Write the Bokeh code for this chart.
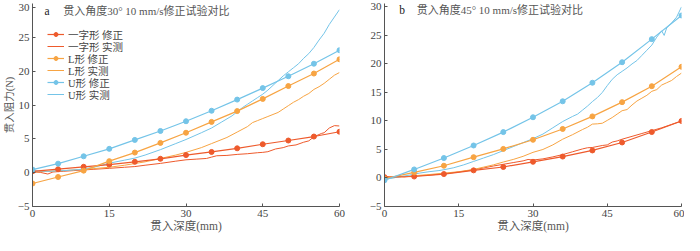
from bokeh.plotting import figure
from bokeh.layouts import row
from bokeh.models import FixedTicker, Legend, LegendItem, Label
from bokeh.embed import file_html
from bokeh.resources import INLINE

RED = "#EE5A2C"
ORANGE = "#F7A443"
BLUE = "#74C4E8"
FONT = "'Liberation Serif', 'Noto Sans CJK SC'"

# ---------------- data ----------------
x_ticks = [0, 15, 30, 45, 60]

# panel a (y in axis-position units; labels below)
a_y_ticks = [-5, 0, 5, 10, 15, 20, 24.4]
a_y_labels = ["−5", "0", "5", "10", "20", "25", "30"]

a_fit_x = [0, 5, 10, 15, 20, 25, 30, 35, 40, 45, 50, 55, 60]
a_yi_fit = [0.2, 0.51, 0.87, 1.19, 1.6, 2.05, 2.6, 3.06, 3.6, 4.2, 4.75, 5.34, 6.05]
a_L_fit = [-1.6, -0.64, 0.3, 1.7, 2.97, 4.4, 5.9, 7.5, 9.1, 10.9, 12.8, 14.65, 16.75]
a_U_fit = [0.46, 1.33, 2.42, 3.52, 4.84, 6.16, 7.6, 9.15, 10.8, 12.5, 14.25, 16.1, 18.1]

a_yi_mx = [0, 1.5, 3, 4, 6, 8, 10, 12, 15, 18, 20, 22, 25, 28, 30, 32, 34, 35, 36, 38, 40,
           42, 44, 45, 46, 47.5, 49, 50, 51.5, 53, 54, 55, 56.5, 57, 58, 59, 60]
a_yi_my = [0.1, 0.05, -0.2, 0.1, 0.2, 0.3, 0.4, 0.5, 0.64, 0.8, 0.9, 1.1, 1.37, 1.7, 1.9, 2.0,
           2.1, 2.3, 2.5, 2.55, 2.7, 2.8, 2.95, 3.0, 3.1, 3.5, 3.7, 3.95, 4.1, 4.5, 4.7, 5.3,
           5.8, 5.9, 6.6, 6.95, 6.9]

a_L_mx = [0, 3, 6, 9, 12, 15, 18, 20, 22, 25, 28, 30, 33, 35, 38, 40, 42, 43, 44, 45, 46,
          47, 48, 49, 50, 51, 52, 53, 54, 55, 56, 57, 58, 59, 60]
a_L_my = [0.1, 0.2, 0.3, 0.45, 0.6, 0.8, 1.1, 1.35, 1.6, 2.1, 2.6, 3.0, 3.7, 4.3, 5.2, 6.0,
          6.8, 7.4, 7.7, 8.0, 8.3, 8.6, 8.9, 9.4, 9.9, 10.4, 10.8, 11.3, 11.7, 12.3, 12.7,
          13.2, 13.8, 14.4, 14.8]

a_U_mx = [0, 3, 6, 9, 12, 15, 18, 20, 22, 25, 28, 30, 33, 35, 37, 39, 40, 41, 42, 43, 44,
          45, 46, 47, 48, 49, 50, 51, 52, 53, 54, 55, 56, 57, 58, 59, 60]
a_U_my = [0.3, 0.2, 0.3, 0.45, 0.8, 1.4, 1.85, 2.15, 2.6, 3.4, 4.3, 4.9, 5.9, 6.6, 7.5, 8.4,
          9.0, 9.6, 10.1, 10.6, 11.1, 11.6, 12.2, 12.9, 13.6, 14.3, 14.9, 15.5, 16.1, 16.9,
          17.6, 18.5, 19.6, 20.6, 21.9, 23.0, 24.1]

# panel b
b_y_ticks = [-5, 0, 5, 10, 15, 20, 25, 30]
b_y_labels = ["−5", "0", "5", "10", "15", "20", "25", "30"]

b_fit_x = [0, 6, 12, 18, 24, 30, 36, 42, 48, 54, 60]
b_yi_fit = [0.15, 0.26, 0.69, 1.34, 1.93, 2.84, 3.76, 4.83, 6.23, 8.06, 10.0]
b_L_fit = [-0.1, 0.97, 2.15, 3.65, 5.1, 6.7, 8.6, 10.8, 13.3, 16.1, 19.5]
b_U_fit = [-0.4, 1.5, 3.5, 5.7, 8.05, 10.65, 13.45, 16.7, 20.3, 24.35, 28.5]

b_yi_mx = [0, 1, 2, 3, 4, 6, 9, 12, 15, 18, 20, 22, 24, 26, 28, 29, 30, 32, 34, 36, 38, 40,
           41, 42, 44, 45, 46, 47, 48, 50, 52, 54, 56, 58, 60]
b_yi_my = [0.25, 0.2, 0.15, 0.3, 0.2, 0.35, 0.5, 0.75, 1.05, 1.45, 1.75, 2.1, 2.4, 2.7, 3.0,
           3.25, 3.15, 3.35, 3.7, 4.1, 4.6, 5.1, 5.3, 5.35, 5.7, 5.8, 6.3, 6.5, 6.8, 7.3,
           7.8, 8.3, 8.8, 9.4, 10.0]

b_L_mx = [0, 3, 6, 9, 12, 15, 18, 20, 22, 24, 26, 28, 30, 32, 34, 36, 38, 40, 41, 42, 43,
          44, 45, 46, 47, 48, 49, 50, 51, 52, 53, 54, 55, 56, 57, 58, 59, 60]
b_L_my = [-0.1, 0.15, 0.4, 0.6, 0.85, 1.1, 1.5, 1.9, 2.3, 2.8, 3.25, 3.8, 4.5, 5.0, 5.8,
          6.8, 7.6, 8.5, 8.9, 9.45, 9.5, 9.6, 10.1, 10.6, 11.2, 11.8, 12.0, 12.8, 13.5,
          14.0, 14.5, 15.2, 15.5, 16.3, 16.7, 17.1, 17.8, 18.4]

b_U_mx = [0, 1, 2, 3, 5, 7, 9, 11, 12, 14, 16, 18, 20, 22, 24, 26, 28, 30, 32, 34, 36, 38,
          39, 40, 41, 42, 43, 44, 45, 46, 47, 48, 49, 50, 51, 52, 53, 54, 55, 56, 56.5, 57,
          58, 59, 60]
b_U_my = [-0.3, -0.1, 0.05, 0.2, 0.5, 0.85, 1.1, 1.3, 1.45, 1.8, 2.3, 2.9, 3.5, 4.1, 4.8,
          5.5, 6.2, 6.9, 7.7, 8.8, 9.9, 10.8, 11.2, 11.9, 12.6, 13.4, 14.1, 15.0, 16.2,
          17.3, 18.1, 18.7, 19.3, 20.0, 20.6, 21.5, 22.4, 23.3, 24.7, 25.8, 25.0, 26.3,
          27.2, 28.2, 30.0]

legend_labels = ["一字形 修正", "一字形 实测", "L形 修正", "L形 实测", "U形 修正", "U形 实测"]

H = 235
TOP = 3
BOTTOM = 29


def style(p, y_ticks, y_labels, y_title):
    p.xaxis.ticker = FixedTicker(ticks=x_ticks)
    p.yaxis.ticker = FixedTicker(ticks=y_ticks)
    p.yaxis.major_label_overrides = {t: l for t, l in zip(y_ticks, y_labels)}
    for ax in (p.xaxis[0], p.yaxis[0]):
        ax.axis_line_color = "#555555"
        ax.axis_line_width = 1
        ax.major_tick_line_color = "#555555"
        ax.major_tick_in = 3
        ax.major_tick_out = 0
        ax.minor_tick_line_color = None
        ax.major_label_text_font = FONT
        ax.major_label_text_font_size = "11px"
        ax.major_label_text_color = "#444444"
        ax.axis_label_text_font = FONT
        ax.axis_label_text_font_style = "normal"
        ax.axis_label_text_color = "#555555"
    p.xaxis.axis_label_text_font_size = "11.5px"
    p.yaxis.axis_label_text_font_size = "10.5px"
    p.xaxis.major_label_standoff = 3
    p.yaxis.major_label_standoff = 3
    p.xaxis.axis_label = "贯入深度(mm)"
    p.xaxis.axis_label_standoff = 0
    if y_title:
        p.yaxis.axis_label = y_title
        p.yaxis.axis_label_standoff = 0
    p.xgrid.grid_line_color = None
    p.ygrid.grid_line_color = None
    p.outline_line_color = None
    p.background_fill_color = "white"
    p.border_fill_color = "white"


def draw(p, fx, yi_f, L_f, U_f, yi_mx, yi_my, L_mx, L_my, U_mx, U_my):
    r = {}
    r["yi_m"] = p.line(yi_mx, yi_my, line_color=RED, line_width=1)
    r["L_m"] = p.line(L_mx, L_my, line_color=ORANGE, line_width=1)
    r["U_m"] = p.line(U_mx, U_my, line_color=BLUE, line_width=1)
    r["yi_fl"] = p.line(fx, yi_f, line_color=RED, line_width=1.2)
    r["yi_fc"] = p.scatter(fx, yi_f, size=5, fill_color=RED, line_color=RED)
    r["L_fl"] = p.line(fx, L_f, line_color=ORANGE, line_width=1.2)
    r["L_fc"] = p.scatter(fx, L_f, size=5, fill_color=ORANGE, line_color=ORANGE)
    r["U_fl"] = p.line(fx, U_f, line_color=BLUE, line_width=1.2)
    r["U_fc"] = p.scatter(fx, U_f, size=5, fill_color=BLUE, line_color=BLUE)
    return r


pa = figure(width=350, height=H, x_range=(0, 60), y_range=(-5, 25.0),
            output_backend="svg", toolbar_location=None,
            min_border_left=32, min_border_right=11, min_border_top=TOP, min_border_bottom=BOTTOM)
style(pa, a_y_ticks, a_y_labels, "贯入阻力(N)")
ra = draw(pa, a_fit_x, a_yi_fit, a_L_fit, a_U_fit, a_yi_mx, a_yi_my, a_L_mx, a_L_my, a_U_mx, a_U_my)

item_renderers = [
    [ra["yi_fl"], ra["yi_fc"]], [ra["yi_m"]],
    [ra["L_fl"], ra["L_fc"]], [ra["L_m"]],
    [ra["U_fl"], ra["U_fc"]], [ra["U_m"]],
]
frame_h = H - TOP - BOTTOM
row_step = 12
first_center = 31      # px below frame top
item_h = 15            # approx legend item height
for i, (lab, rends) in enumerate(zip(legend_labels, item_renderers)):
    bottom = frame_h - (first_center + i * row_step) - item_h / 2
    leg = Legend(items=[LegendItem(label=lab, renderers=rends)], location=(15, bottom),
                 padding=0, margin=0, spacing=0,
                 glyph_width=17, glyph_height=10, label_height=10, label_standoff=4,
                 label_text_font=FONT, label_text_font_size="10.5px",
                 label_text_color="#444444", border_line_color=None,
                 background_fill_alpha=0)
    pa.add_layout(leg)

pa.add_layout(Label(x=2.35, y=24.85, text="a", text_font=FONT, text_font_size="11.5px",
                    text_color="#222222", text_baseline="top"))
pa.add_layout(Label(x=6.0, y=24.85, text="贯入角度30°  10 mm/s修正试验对比", text_font=FONT,
                    text_font_size="11px", text_color="#555555", text_baseline="top"))

pb = figure(width=334, height=H, x_range=(0, 60), y_range=(-5, 30.6),
            output_backend="svg", toolbar_location=None,
            min_border_left=34, min_border_right=3, min_border_top=TOP, min_border_bottom=BOTTOM)
style(pb, b_y_ticks, b_y_labels, None)
draw(pb, b_fit_x, b_yi_fit, b_L_fit, b_U_fit, b_yi_mx, b_yi_my, b_L_mx, b_L_my, b_U_mx, b_U_my)
pb.add_layout(Label(x=3.0, y=30.45, text="b", text_font=FONT, text_font_size="11.5px",
                    text_color="#222222", text_baseline="top"))
pb.add_layout(Label(x=6.5, y=30.45, text="贯入角度45°  10 mm/s修正试验对比", text_font=FONT,
                    text_font_size="11px", text_color="#555555", text_baseline="top"))

layout = row(pa, pb, spacing=0)
open("out.html", "w").write(file_html(layout, INLINE))
